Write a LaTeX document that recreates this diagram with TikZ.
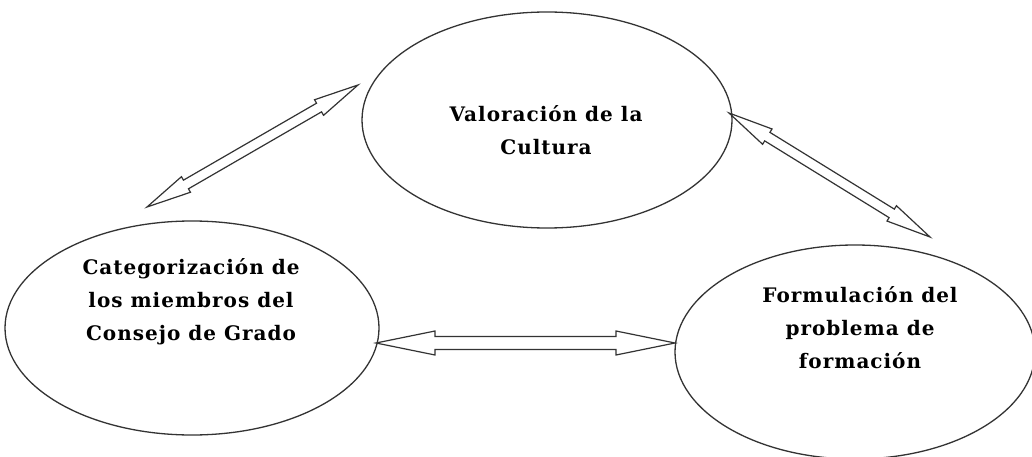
\documentclass[tikz,border=0pt]{standalone}
\usepackage{fontspec}
\setmainfont{DejaVu Serif}
\newfontfamily\lblfont[LetterSpace=5]{DejaVu Serif}
\usetikzlibrary{shapes.geometric,calc}
\newcommand\dblarr[5]{%
  \draw[dbl] (#1) -- ($(#1)!#3!(#2)!#4!90:(#2)$) -- ($(#1)!#3!(#2)!#5!90:(#2)$)
    -- ($(#2)!#3!(#1)!#5!-90:(#1)$) -- ($(#2)!#3!(#1)!#4!-90:(#1)$) -- (#2)
    -- ($(#2)!#3!(#1)!#4!90:(#1)$) -- ($(#2)!#3!(#1)!#5!90:(#1)$)
    -- ($(#1)!#3!(#2)!#5!-90:(#2)$) -- ($(#1)!#3!(#2)!#4!-90:(#2)$) -- cycle;}
\begin{document}
\begin{tikzpicture}[x=1pt,y=-1pt,
  ell/.style={draw, ellipse, line width=1.3pt, inner sep=0pt, color=black!80},
  lbl/.style={align=center, font=\lblfont\bfseries\fontsize{20}{33}\selectfont},
  dbl/.style={draw=black!80, line width=1.2pt, fill=white, line join=miter}]
\useasboundingbox[fill=white] (0,0) rectangle (1032,457);
\node[ell, minimum width=370pt, minimum height=216pt] (cul) at (547,120) {};
\node[ell, minimum width=374pt, minimum height=214pt] (cat) at (192,328) {};
\node[ell, minimum width=360pt, minimum height=214pt] (for) at (855,352) {};
\node[lbl] (tcul) at (546,130) {Valoración de la\\Cultura};
\node[lbl] (tcat) at (191,302) {Categorización de\\los miembros del\\Consejo de Grado};
\node[lbl] (tfor) at (860,328) {Formulación del\\problema de\\formación};
\coordinate (a1) at (147,207);
\coordinate (a2) at (358,85);
\coordinate (b1) at (729,113);
\coordinate (b2) at (930,237);
\coordinate (c1) at (376,343);
\coordinate (c2) at (675,343);
\dblarr{a1}{a2}{45pt}{9pt}{5pt}
\dblarr{b1}{b2}{45pt}{9pt}{5pt}
\dblarr{c1}{c2}{59pt}{12pt}{6.5pt}
\end{tikzpicture}
\end{document}
